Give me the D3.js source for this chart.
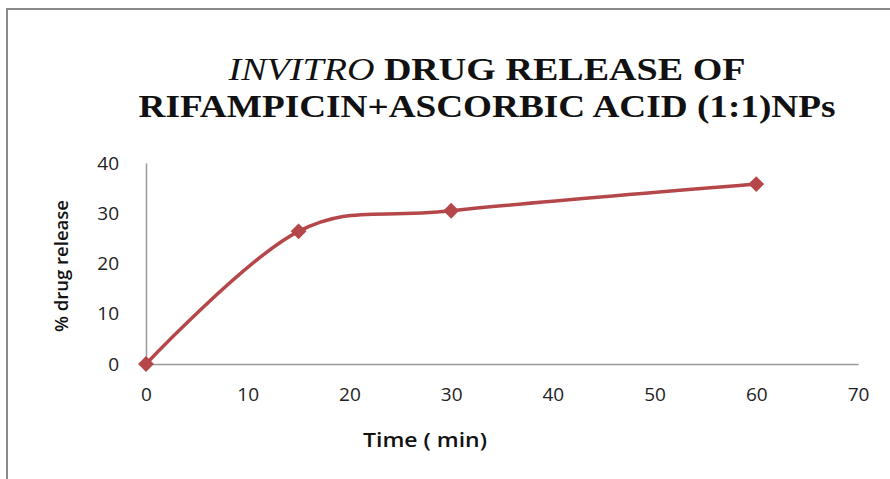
<!DOCTYPE html>
<html lang="en">
<head>
<meta charset="utf-8">
<title>Invitro drug release</title>
<script src="https://d3js.org/d3.v7.min.js"></script>
<style>
  html, body { margin: 0; padding: 0; background: #fff; }
  svg { display: block; }
  .tick text { font-family: "Open Sans", "Liberation Sans", sans-serif; font-size: 19px; fill: #222; }
  .axis path { stroke: #999; stroke-width: 1.5px; }
  .axis line { display: none; }
</style>
</head>
<body>
<script>
var times = [0, 15, 30, 60];
var release = [0, 26.4, 30.5, 35.8];
var xTicks = [0, 10, 20, 30, 40, 50, 60, 70];
var yTicks = [0, 10, 20, 30, 40];

var W = 890, H = 479;
var svg = d3.select("body").append("svg").attr("width", W).attr("height", H);

// outer frame (only top and left edges are visible in the picture)
svg.append("path")
  .attr("d", "M7," + H + "V9H" + W)
  .attr("fill", "none").attr("stroke", "#8a8a8a").attr("stroke-width", 2);

var x = d3.scaleLinear().domain([0, 70]).range([146, 858]);
var y = d3.scaleLinear().domain([0, 40]).range([364, 163]);

svg.append("g").attr("class", "axis")
  .attr("transform", "translate(0," + y(0) + ")")
  .call(d3.axisBottom(x).tickValues(xTicks).tickSize(0).tickPadding(24).tickSizeOuter(0))
  .selectAll("text").attr("dy", "0.71em");

svg.append("g").attr("class", "axis")
  .attr("transform", "translate(" + x(0) + ",0)")
  .call(d3.axisLeft(y).tickValues(yTicks).tickSize(0).tickPadding(27).tickSizeOuter(0));

var line = d3.line()
  .x(function(d, i) { return x(times[i]); })
  .y(function(d) { return y(d); })
  .curve(d3.curveCardinal.tension(0));

svg.append("path")
  .attr("d", line(release))
  .attr("fill", "none").attr("stroke", "#B5474A").attr("stroke-width", 3.5);

svg.selectAll(".pt").data(release).enter().append("path")
  .attr("class", "pt")
  .attr("d", d3.symbol().type(d3.symbolDiamond2).size(160))
  .attr("transform", function(d, i) { return "translate(" + x(times[i]) + "," + y(d) + ")"; })
  .attr("fill", "#B5474A");

// title
var serif = "'Liberation Serif', 'Times New Roman', serif";
var title = svg.append("text")
  .attr("x", 487).attr("y", 80).attr("text-anchor", "middle")
  .attr("textLength", 517).attr("lengthAdjust", "spacingAndGlyphs")
  .style("font-family", serif).style("font-size", "31px").style("fill", "#111");
title.append("tspan").style("font-style", "italic").text("INVITRO");
title.append("tspan").style("font-weight", "bold").text(" DRUG RELEASE OF");
svg.append("text")
  .attr("x", 487).attr("y", 117).attr("text-anchor", "middle")
  .attr("textLength", 697).attr("lengthAdjust", "spacingAndGlyphs")
  .style("font-family", serif)
  .style("font-size", "31px").style("font-weight", "bold").style("fill", "#111")
  .text("RIFAMPICIN+ASCORBIC ACID (1:1)NPs");

// axis titles
var sans = "'Open Sans', 'Liberation Sans', sans-serif";
svg.append("text")
  .attr("x", 425).attr("y", 447).attr("text-anchor", "middle")
  .attr("textLength", 124).attr("lengthAdjust", "spacingAndGlyphs")
  .style("font-family", sans)
  .style("font-size", "20px").style("font-weight", "600").style("fill", "#111")
  .text("Time ( min)");
svg.append("text")
  .attr("transform", "translate(68,266) rotate(-90)").attr("text-anchor", "middle")
  .attr("textLength", 132).attr("lengthAdjust", "spacingAndGlyphs")
  .style("font-family", sans)
  .style("font-size", "18px").style("font-weight", "600").style("fill", "#111")
  .text("% drug release");
</script>
</body>
</html>
